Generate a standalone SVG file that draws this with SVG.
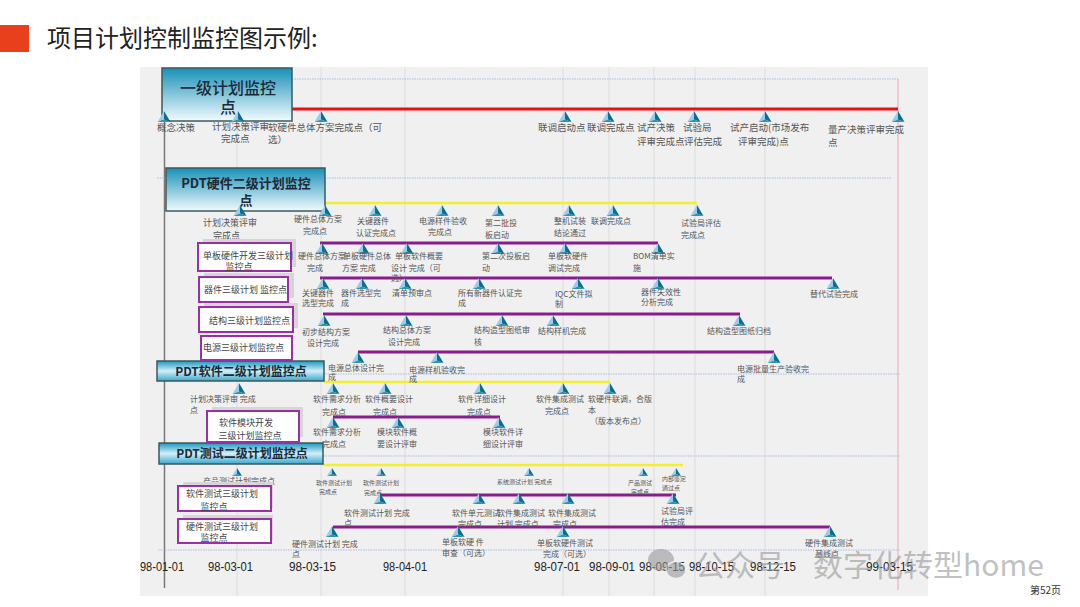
<svg xmlns="http://www.w3.org/2000/svg" width="1080" height="607" viewBox="0 0 1080 607">
<defs>
<linearGradient id="gA" x1="0" y1="0" x2="0" y2="1"><stop offset="0" stop-color="#1890b8"/><stop offset="1" stop-color="#f2fbfe"/></linearGradient>
<linearGradient id="gB" x1="0" y1="0" x2="0" y2="1"><stop offset="0" stop-color="#1d97be"/><stop offset="0.5" stop-color="#d2eff8"/><stop offset="1" stop-color="#3aa8cc"/></linearGradient>
<g id="m"><polygon points="0,-11 -6.5,0 0,-2.5" fill="#9ccbea"/><polygon points="0,-11 6.5,0 0,-2.5" fill="#0c6d8c"/><polygon points="-6.5,0 6.5,0 0,-2.5" fill="#2a93b8"/></g>
<g id="ms"><polygon points="0,-8 -5,0 0,-2" fill="#9ccbea"/><polygon points="0,-8 5,0 0,-2" fill="#0c6d8c"/><polygon points="-5,0 5,0 0,-2" fill="#2a93b8"/></g>
</defs>
<style>
.l{font-family:"Noto Sans CJK SC","Noto Sans",sans-serif;font-size:8px;fill:#555}
.l1{font-size:9.5px}
.l9{font-size:9px}
.t{font-size:6px}
.hb{font-family:"Noto Sans CJK SC","Noto Sans",sans-serif;font-weight:700;fill:#1b2a38;text-anchor:middle}
.hn{font-family:"Noto Sans CJK SC","Noto Sans",sans-serif;font-weight:500;fill:#1b2a38;text-anchor:middle;font-size:16px}
.pb{fill:#fff;stroke:#9a2fa6;stroke-width:2}
.sh{fill:#d6d6d6}
.pt{font-family:"Noto Sans CJK SC","Noto Sans",sans-serif;font-size:9px;fill:#444}
.grid{stroke:#dcdcdc;stroke-width:1}
.blue{stroke:#a9bce8;stroke-width:1;stroke-dasharray:1.5 1;fill:none}
.pl{stroke:#8a1d8c;stroke-width:3}
.yl{stroke:#f4ee2c;stroke-width:2.5}
.d{font-family:"Liberation Sans",Arial,sans-serif;font-size:12px;fill:#222}
</style>
<rect x="0" y="0" width="1080" height="607" fill="#fff"/>
<rect x="0" y="25" width="29" height="27" fill="#e8401c"/>
<text x="47" y="47" font-family="Noto Sans CJK SC, sans-serif" font-size="24" fill="#222">项目计划控制监控图示例:</text>
<rect x="140" y="67" width="788" height="529" fill="#f0f0f0"/>
<g id="grid">
<line class="grid" x1="237" y1="67" x2="237" y2="596"/>
<line class="grid" x1="321" y1="67" x2="321" y2="596"/>
<line class="grid" x1="405" y1="67" x2="405" y2="596"/>
<line class="grid" x1="563" y1="67" x2="563" y2="596"/>
<line class="grid" x1="609" y1="67" x2="609" y2="596"/>
<line class="grid" x1="654" y1="67" x2="654" y2="596"/>
<line class="grid" x1="695" y1="67" x2="695" y2="596"/>
<line class="grid" x1="765" y1="67" x2="765" y2="596"/>
<line x1="164.5" y1="75" x2="164.5" y2="588" stroke="#777" stroke-width="1.5"/>
<line x1="898" y1="79" x2="898" y2="590" stroke="#f0a4b4" stroke-width="1"/>
</g>
<g id="connectors">
<line class="blue" x1="292" y1="79" x2="898" y2="79"/>
<line class="blue" x1="157" y1="178" x2="892" y2="178"/>
<line class="blue" x1="158" y1="374" x2="900" y2="374"/>
<line class="blue" x1="158" y1="456" x2="900" y2="456"/>
<line class="blue" x1="158" y1="550" x2="900" y2="550"/>
<line x1="292" y1="109" x2="898" y2="109" stroke="#e81010" stroke-width="3"/>
<line class="yl" x1="325" y1="203" x2="697" y2="203"/>
<line class="yl" x1="324" y1="382" x2="610" y2="382"/>
<line class="yl" x1="323" y1="465" x2="683" y2="465"/>
<line class="pl" x1="320" y1="243" x2="658" y2="243"/>
<line class="pl" x1="320" y1="278" x2="832" y2="278"/>
<line class="pl" x1="323" y1="314" x2="740" y2="314"/>
<line class="pl" x1="358" y1="352" x2="774" y2="352"/>
<line class="pl" x1="333" y1="417" x2="500" y2="417"/>
<line class="pl" x1="380" y1="495" x2="676" y2="495"/>
<line class="pl" x1="333" y1="527" x2="830" y2="527"/>
</g>
<g id="box-l1"><rect x="162" y="68" width="130" height="53" fill="url(#gA)" stroke="#3d5a5a" stroke-width="1.5"/><text class="hn" x="228" y="94">一级计划监控</text><text class="hn" x="228" y="113">点</text></g>
<g id="box-hw"><rect x="166" y="168" width="159" height="43" fill="url(#gA)" stroke="#3d5a5a" stroke-width="1.5"/><text class="hb" x="246" y="188" font-size="13">PDT硬件二级计划监控</text><text class="hb" x="246" y="205" font-size="13">点</text></g>
<g id="box-sw"><rect x="157" y="361" width="167" height="20" fill="url(#gB)" stroke="#3d5a5a" stroke-width="1.5"/><text class="hb" x="241" y="376" font-size="12">PDT软件二级计划监控点</text></g>
<g id="box-test"><rect x="159" y="443" width="164" height="21" fill="url(#gB)" stroke="#3d5a5a" stroke-width="1.5"/><text class="hb" x="242" y="458" font-size="12">PDT测试二级计划监控点</text></g>
<g id="ms-l1">
<g id="l1-1"><use href="#m" x="164" y="122"/><text class="l l1" x="157" y="131">概念决策</text></g>
<g id="l1-2"><use href="#m" x="238" y="122"/><text class="l l1"><tspan x="212" y="130">计划决策评审</tspan><tspan x="221" y="142">完成点</tspan></text></g>
<g id="l1-3"><use href="#m" x="321" y="122"/><text class="l l1"><tspan x="268" y="131">软硬件总体方案完成点（可</tspan><tspan x="268" y="143">选）</tspan></text></g>
<g id="l1-4"><use href="#m" x="565" y="122"/><text class="l l1" x="538" y="131">联调启动点</text></g>
<g id="l1-5"><use href="#m" x="608" y="122"/><text class="l l1" x="587" y="131">联调完成点</text></g>
<g id="l1-6"><use href="#m" x="655" y="122"/><text class="l l1"><tspan x="637" y="131">试产决策</tspan><tspan x="637" y="145">评审完成点</tspan></text></g>
<g id="l1-7"><use href="#m" x="694" y="122"/><text class="l l1"><tspan x="683" y="131">试验局</tspan><tspan x="684" y="145">评估完成</tspan></text></g>
<g id="l1-8"><use href="#m" x="765" y="122"/><text class="l l1"><tspan x="730" y="131">试产启动(市场发布</tspan><tspan x="738" y="145">评审完成)点</tspan></text></g>
<g id="l1-9"><use href="#m" x="898" y="122"/><text class="l l1"><tspan x="828" y="133">量产决策评审完成</tspan><tspan x="828" y="146">点</tspan></text></g>
</g>
<g id="ms-hw">
<g id="hw-1"><use href="#m" x="240" y="216"/><text class="l l9"><tspan x="203" y="226">计划决策评审</tspan><tspan x="213" y="239">完成点</tspan></text></g>
<g id="hw-2"><use href="#m" x="325" y="216"/><text class="l"><tspan x="294" y="222">硬件总体方案</tspan><tspan x="303" y="234">完成点</tspan></text></g>
<g id="hw-3"><use href="#m" x="375" y="216"/><text class="l"><tspan x="357" y="224">关键器件</tspan><tspan x="356" y="236">认证完成点</tspan></text></g>
<g id="hw-4"><use href="#m" x="442" y="216"/><text class="l"><tspan x="419" y="224">电源样件验收</tspan><tspan x="428" y="235">完成点</tspan></text></g>
<g id="hw-5"><use href="#m" x="498" y="216"/><text class="l"><tspan x="485" y="226">第二批投</tspan><tspan x="485" y="238">板启动</tspan></text></g>
<g id="hw-6"><use href="#m" x="569" y="216"/><text class="l"><tspan x="554" y="224">整机试装</tspan><tspan x="554" y="236">结论通过</tspan></text></g>
<g id="hw-7"><use href="#m" x="613" y="216"/><text class="l" x="591" y="224">联调完成点</text></g>
<g id="hw-8"><use href="#m" x="697" y="216"/><text class="l"><tspan x="681" y="226">试验局评估</tspan><tspan x="681" y="238">完成点</tspan></text></g>
</g>
<g id="ms-r1">
<g id="r1-1"><use href="#m" x="322" y="254"/><text class="l"><tspan x="298" y="259">硬件总体方案</tspan><tspan x="307" y="271">完成</tspan></text></g>
<g id="r1-2"><use href="#m" x="363" y="254"/><text class="l"><tspan x="343" y="259">单板硬件总体</tspan><tspan x="342" y="271">方案 完成</tspan></text></g>
<g id="r1-3"><use href="#m" x="407" y="254"/><text class="l"><tspan x="395" y="259">单板软件概要</tspan><tspan x="391" y="271">设计 完成（可</tspan><tspan x="391" y="281">选）</tspan></text></g>
<g id="r1-4"><use href="#m" x="498" y="254"/><text class="l"><tspan x="482" y="259">第二次投板启</tspan><tspan x="482" y="271">动</tspan></text></g>
<g id="r1-5"><use href="#m" x="565" y="254"/><text class="l"><tspan x="548" y="259">单板软硬件</tspan><tspan x="548" y="271">调试完成</tspan></text></g>
<g id="r1-6"><use href="#m" x="658" y="254"/><text class="l"><tspan x="633" y="259">BOM清单实</tspan><tspan x="633" y="271">施</tspan></text></g>
</g>
<g id="ms-r2">
<g id="r2-1"><use href="#m" x="323" y="289"/><text class="l"><tspan x="302" y="296">关键器件</tspan><tspan x="302" y="306">选型完成</tspan></text></g>
<g id="r2-2"><use href="#m" x="362" y="289"/><text class="l"><tspan x="341" y="296">器件选型完</tspan><tspan x="341" y="306">成</tspan></text></g>
<g id="r2-3"><use href="#m" x="405" y="289"/><text class="l" x="392" y="296">清单预审点</text></g>
<g id="r2-4"><use href="#m" x="479" y="289"/><text class="l"><tspan x="458" y="296">所有新器件认证完</tspan><tspan x="458" y="306">成</tspan></text></g>
<g id="r2-5"><use href="#m" x="578" y="289"/><text class="l"><tspan x="555" y="297">IQC文件拟</tspan><tspan x="555" y="307">制</tspan></text></g>
<g id="r2-6"><use href="#m" x="658" y="289"/><text class="l"><tspan x="641" y="295">器件失效性</tspan><tspan x="641" y="305">分析完成</tspan></text></g>
<g id="r2-7"><use href="#m" x="833" y="289"/><text class="l" x="810" y="297">替代试验完成</text></g>
</g>
<g id="ms-r3">
<g id="r3-1"><use href="#m" x="324" y="326"/><text class="l"><tspan x="302" y="335">初步结构方案</tspan><tspan x="307" y="346">设计完成</tspan></text></g>
<g id="r3-2"><use href="#m" x="406" y="326"/><text class="l"><tspan x="383" y="333">结构总体方案</tspan><tspan x="388" y="345">设计完成</tspan></text></g>
<g id="r3-3"><use href="#m" x="502" y="326"/><text class="l"><tspan x="474" y="333">结构造型图纸审</tspan><tspan x="474" y="345">核</tspan></text></g>
<g id="r3-4"><use href="#m" x="553" y="326"/><text class="l" x="538" y="334">结构样机完成</text></g>
<g id="r3-5"><use href="#m" x="739" y="326"/><text class="l" x="707" y="334">结构造型图纸归档</text></g>
</g>
<g id="ms-r4">
<g id="r4-1"><use href="#m" x="358" y="363"/><text class="l"><tspan x="328" y="371">电源总体设计完</tspan><tspan x="328" y="380">成</tspan></text></g>
<g id="r4-2"><use href="#m" x="437" y="363"/><text class="l"><tspan x="409" y="373">电源样机验收完</tspan><tspan x="409" y="382">成</tspan></text></g>
<g id="r4-3"><use href="#m" x="774" y="363"/><text class="l"><tspan x="737" y="372">电源批量生产验收完</tspan><tspan x="737" y="382">成</tspan></text></g>
</g>
<g id="ms-sw">
<g id="sw-1"><use href="#m" x="239" y="394"/><text class="l"><tspan x="190" y="402">计划决策评审 完成</tspan><tspan x="190" y="413">点</tspan></text></g>
<g id="sw-2"><use href="#m" x="333" y="394"/><text class="l"><tspan x="313" y="402">软件需求分析</tspan><tspan x="322" y="415">完成点</tspan></text></g>
<g id="sw-3"><use href="#m" x="385" y="394"/><text class="l"><tspan x="365" y="402">软件概要设计</tspan><tspan x="373" y="415">完成点</tspan></text></g>
<g id="sw-4"><use href="#m" x="480" y="394"/><text class="l"><tspan x="458" y="402">软件详细设计</tspan><tspan x="467" y="415">完成点</tspan></text></g>
<g id="sw-5"><use href="#m" x="563" y="394"/><text class="l"><tspan x="536" y="402">软件集成测试</tspan><tspan x="545" y="414">完成点</tspan></text></g>
<g id="sw-6"><use href="#m" x="610" y="394"/><text class="l"><tspan x="588" y="402">软硬件联调，合版</tspan><tspan x="588" y="413">本</tspan><tspan x="590" y="424">（版本发布点）</tspan></text></g>
</g>
<g id="ms-swr">
<g id="swr-1"><use href="#m" x="333" y="428"/><text class="l"><tspan x="313" y="435">软件需求分析</tspan><tspan x="322" y="447">完成点</tspan></text></g>
<g id="swr-2"><use href="#m" x="398" y="428"/><text class="l"><tspan x="377" y="435">模块软件概</tspan><tspan x="377" y="447">要设计评审</tspan></text></g>
<g id="swr-3"><use href="#m" x="499" y="428"/><text class="l"><tspan x="483" y="435">模块软件详</tspan><tspan x="483" y="447">细设计评审</tspan></text></g>
</g>
<g id="ms-test">
<g id="t-1"><use href="#ms" x="237" y="476"/><text class="l" font-size="7" x="203" y="484">产品测试计划完成点</text></g>
<g id="t-2"><use href="#ms" x="332" y="476"/><text class="l t"><tspan x="316" y="485">软件测试计划</tspan><tspan x="319" y="494">完成点</tspan></text></g>
<g id="t-3"><use href="#ms" x="381" y="476"/><text class="l t"><tspan x="363" y="485">软件测试计划</tspan><tspan x="364" y="495">完成点</tspan></text></g>
<g id="t-4"><use href="#ms" x="529" y="476"/><text class="l t" x="497" y="484">系统测试计划 完成点</text></g>
<g id="t-5"><use href="#ms" x="643" y="476"/><text class="l t"><tspan x="628" y="485">产品测试</tspan><tspan x="631" y="494">完成点</tspan></text></g>
<g id="t-6"><use href="#ms" x="676" y="476"/><text class="l t"><tspan x="662" y="481">内部鉴定</tspan><tspan x="662" y="490">通过点</tspan></text></g>
</g>
<g id="ms-t1">
<g id="t1-1"><use href="#m" x="380" y="504"/><text class="l"><tspan x="344" y="516">软件测试计划 完成</tspan><tspan x="344" y="526">点</tspan></text></g>
<g id="t1-2"><use href="#m" x="479" y="504"/><text class="l"><tspan x="452" y="516">软件单元测试</tspan><tspan x="458" y="527">完成点</tspan></text></g>
<g id="t1-3"><use href="#m" x="519" y="504"/><text class="l"><tspan x="497" y="516">软件集成测试</tspan><tspan x="497" y="527">计划 完成点</tspan></text></g>
<g id="t1-4"><use href="#m" x="568" y="504"/><text class="l"><tspan x="548" y="516">软件集成测试</tspan><tspan x="553" y="527">完成点</tspan></text></g>
<g id="t1-5"><use href="#m" x="673" y="504"/><text class="l"><tspan x="661" y="514">试验局评</tspan><tspan x="661" y="525">估完成</tspan></text></g>
</g>
<g id="ms-t2">
<g id="t2-1"><use href="#m" x="332" y="537"/><text class="l"><tspan x="292" y="547">硬件测试计划 完成</tspan><tspan x="292" y="557">点</tspan></text></g>
<g id="t2-2"><use href="#m" x="458" y="537"/><text class="l"><tspan x="442" y="545">单板软硬 件</tspan><tspan x="442" y="556">审查（可选）</tspan></text></g>
<g id="t2-3"><use href="#m" x="563" y="537"/><text class="l"><tspan x="537" y="546">单板软硬件测试</tspan><tspan x="543" y="557">完成（可选）</tspan></text></g>
<g id="t2-4"><use href="#m" x="830" y="537"/><text class="l"><tspan x="805" y="546">硬件集成测试</tspan><tspan x="815" y="557">基线点</tspan></text></g>
</g>
<g id="box-r1"><rect class="sh" x="203" y="239" width="93" height="28"/><rect class="pb" x="198" y="243" width="93" height="28"/><text class="pt"><tspan x="203" y="259">单板硬件开发三级计划</tspan><tspan x="239" y="270" text-anchor="middle">监控点</tspan></text></g>
<g id="box-r2"><rect class="sh" x="204" y="273" width="90" height="25"/><rect class="pb" x="199" y="277" width="89" height="25"/><text class="pt" x="204" y="293">器件三级计划 监控点</text></g>
<g id="box-r3"><rect class="sh" x="204" y="303" width="94" height="25"/><rect class="pb" x="199" y="307" width="94" height="25"/><text class="pt" x="209" y="324">结构三级计划监控点</text></g>
<g id="box-r4"><rect class="pb" x="201" y="336" width="91" height="24"/><text class="pt" x="203" y="351">电源三级计划监控点</text></g>
<g id="box-swr"><rect class="sh" x="212" y="407" width="91" height="30"/><rect class="pb" x="207" y="411" width="92" height="31"/><text class="pt" font-size="10" text-anchor="middle"><tspan x="246" y="426">软件模块开发</tspan><tspan x="250" y="439">三级计划监控点</tspan></text></g>
<g id="box-t1"><rect class="sh" x="183" y="482" width="90" height="26"/><rect class="pb" x="178" y="486" width="93" height="25"/><text class="pt" font-size="9.5" text-anchor="middle"><tspan x="222" y="497">软件测试三级计划</tspan><tspan x="214" y="510">监控点</tspan></text></g>
<g id="box-t2"><rect class="sh" x="183" y="515" width="90" height="25"/><rect class="pb" x="178" y="519" width="93" height="24"/><text class="pt" font-size="9.5" text-anchor="middle"><tspan x="222" y="530">硬件测试三级计划</tspan><tspan x="214" y="541">监控点</tspan></text></g>
<g id="dates">
<text class="d" x="140" y="571" textLength="44" lengthAdjust="spacingAndGlyphs">98-01-01</text>
<text class="d" x="208" y="571" textLength="45" lengthAdjust="spacingAndGlyphs">98-03-01</text>
<text class="d" x="289" y="571" textLength="47" lengthAdjust="spacingAndGlyphs">98-03-15</text>
<text class="d" x="383" y="571" textLength="44" lengthAdjust="spacingAndGlyphs">98-04-01</text>
<text class="d" x="534" y="571" textLength="46" lengthAdjust="spacingAndGlyphs">98-07-01</text>
<text class="d" x="589" y="571" textLength="46" lengthAdjust="spacingAndGlyphs">98-09-01</text>
<text class="d" x="639" y="571" textLength="46" lengthAdjust="spacingAndGlyphs">98-09-15</text>
<text class="d" x="689" y="571" textLength="45" lengthAdjust="spacingAndGlyphs">98-10-15</text>
<text class="d" x="750" y="571" textLength="46" lengthAdjust="spacingAndGlyphs">98-12-15</text>
<text class="d" x="866" y="571" textLength="47" lengthAdjust="spacingAndGlyphs">99-03-15</text>
</g>
<g id="watermark" opacity="0.6">
<ellipse cx="661" cy="560" rx="13" ry="11" fill="#999"/>
<ellipse cx="676" cy="570" rx="10" ry="8.5" fill="#999" stroke="#f0f0f0" stroke-width="1.5"/>
<text x="695" y="576" font-family="Noto Sans CJK SC, sans-serif" font-size="30" fill="#999">公众号<tspan x="813">数字化转型home</tspan></text>
</g>
<text x="1030" y="594" font-family="Noto Sans CJK SC, sans-serif" font-size="10" fill="#333">第52页</text>
</svg>
